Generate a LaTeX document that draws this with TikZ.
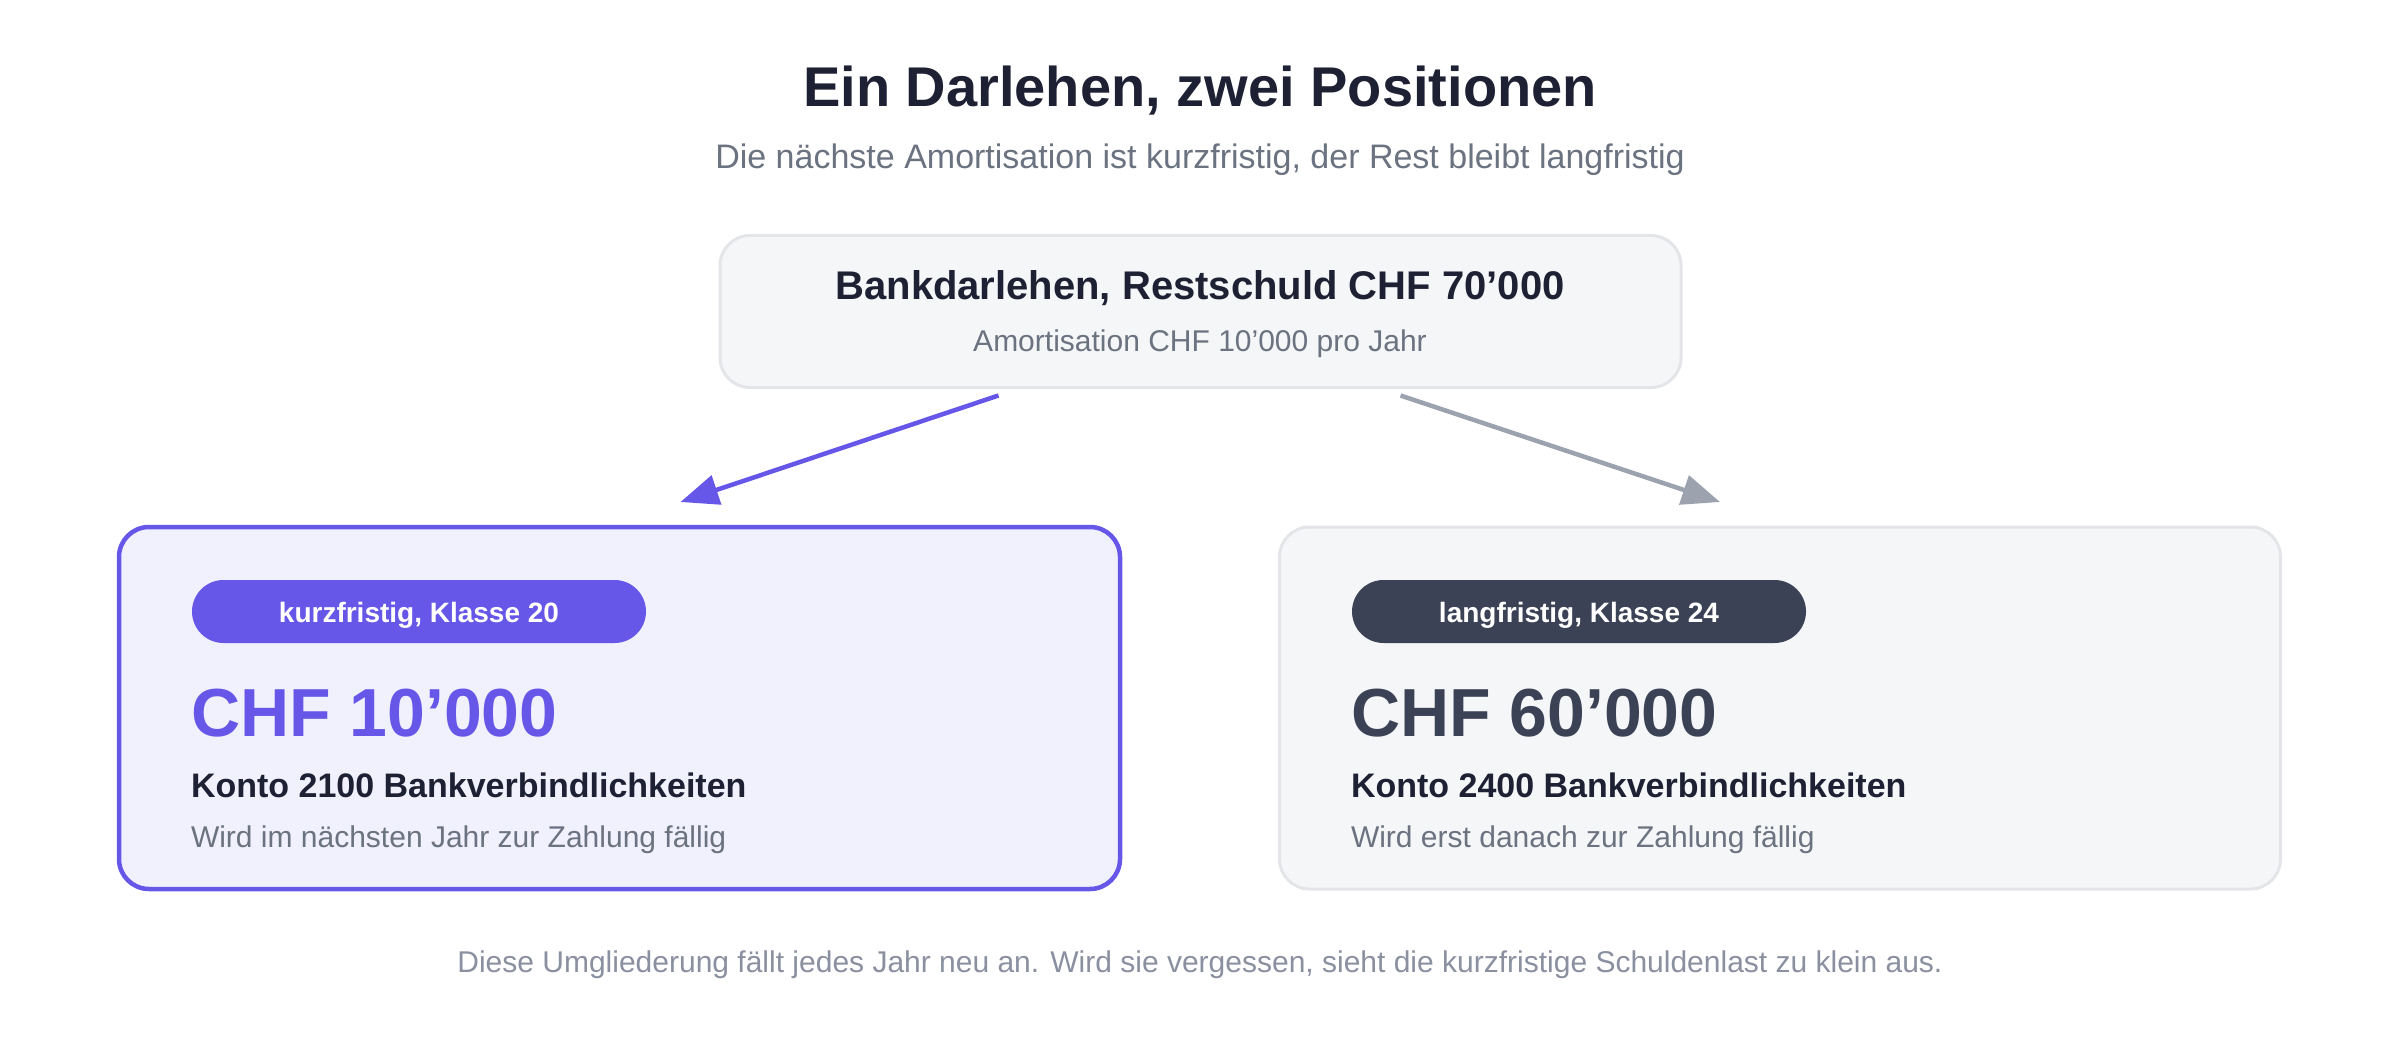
\documentclass[tikz,border=0pt]{standalone}
\usepackage{fontspec}
\setmainfont{Liberation Sans}
\usetikzlibrary{arrows.meta,calc}
\definecolor{ink}{HTML}{1E2133}
\definecolor{muted}{HTML}{6B7280}
\definecolor{faint}{HTML}{8A90A0}
\definecolor{accent}{HTML}{6657E8}
\definecolor{accentbg}{HTML}{F1F0FD}
\definecolor{slate}{HTML}{3C4256}
\definecolor{boxbg}{HTML}{F5F6F8}
\definecolor{boxline}{HTML}{E3E5E9}
\definecolor{arrgray}{HTML}{9CA3AF}
\tikzset{
  fs/.style={font=\fontsize{#1}{#1}\selectfont},
  fsb/.style={font=\fontsize{#1}{#1}\selectfont\bfseries},
  panel/.style={rectangle, rounded corners=30pt, fill=boxbg, draw=boxline, line width=3pt},
  activepanel/.style={rectangle, rounded corners=30pt, fill=accentbg, draw=accent, line width=4.5pt},
  pill/.style={rectangle, rounded corners=31.5pt, minimum width=454pt, minimum height=63pt},
  link/.style={line width=4.5pt, -{Triangle[length=38pt,width=30pt]}},
}
\begin{document}
\begin{tikzpicture}[x=1pt,y=-1pt, every node/.style={inner sep=0pt, outer sep=0pt}]
\useasboundingbox[fill=white] (0,0) rectangle (2400,1040);

\node[anchor=base, fsb=56, text=ink] (title) at (1200,107) {Ein Darlehen, zwei Positionen};
\node[anchor=base, fs=34, text=muted] (subtitle) at (1200,169) {Die nächste Amortisation ist kurzfristig, der Rest bleibt langfristig};

\node[panel, minimum width=961pt, minimum height=152pt] (top) at (1200.5,311.5) {};
\node[anchor=base, fsb=40, text=ink] (toptitle) at (1200,300) {Bankdarlehen, Restschuld CHF 70’000};
\node[anchor=base, fs=30, text=muted] (topsub) at (1200,352) {Amortisation CHF 10’000 pro Jahr};

\node[activepanel, minimum width=1001pt, minimum height=362pt] (lcard) at (619.5,708) {};
\node[pill, fill=accent] (lpill) at (419,611.5) {};
\node[anchor=base, fsb=28, text=white] (lpilltext) at (419,622) {kurzfristig, Klasse 20};
\node[anchor=base west, fsb=68, text=accent] (lamt) at (191,736) {CHF 10’000};
\node[anchor=base west, fsb=34, text=ink] (lacct) at (191,797) {Konto 2100 Bankverbindlichkeiten};
\node[anchor=base west, fs=30, text=muted] (ldesc) at (191,847) {Wird im nächsten Jahr zur Zahlung fällig};

\node[panel, minimum width=1001pt, minimum height=362pt] (rcard) at (1780,708) {};
\node[pill, fill=slate] (rpill) at (1579,611.5) {};
\node[anchor=base, fsb=28, text=white] (rpilltext) at (1579,622) {langfristig, Klasse 24};
\node[anchor=base west, fsb=68, text=slate] (ramt) at (1351,736) {CHF 60’000};
\node[anchor=base west, fsb=34, text=ink] (racct) at (1351,797) {Konto 2400 Bankverbindlichkeiten};
\node[anchor=base west, fs=30, text=muted] (rdesc) at (1351,847) {Wird erst danach zur Zahlung fällig};

\coordinate (ls) at ($(top.south)+(-202,8)$);
\coordinate (le) at ($(lcard.north)+(61,-25)$);
\coordinate (rs) at ($(top.south)+(200,8)$);
\coordinate (re) at ($(rcard.north)+(-60,-25)$);
\draw[link, draw=accent, fill=accent] (ls) -- (le);
\draw[link, draw=arrgray, fill=arrgray] (rs) -- (re);

\node[anchor=base, fs=30, text=faint] (footer) at (1200,972) {Diese Umgliederung fällt jedes Jahr neu an. Wird sie vergessen, sieht die kurzfristige Schuldenlast zu klein aus.};
\end{tikzpicture}
\end{document}
